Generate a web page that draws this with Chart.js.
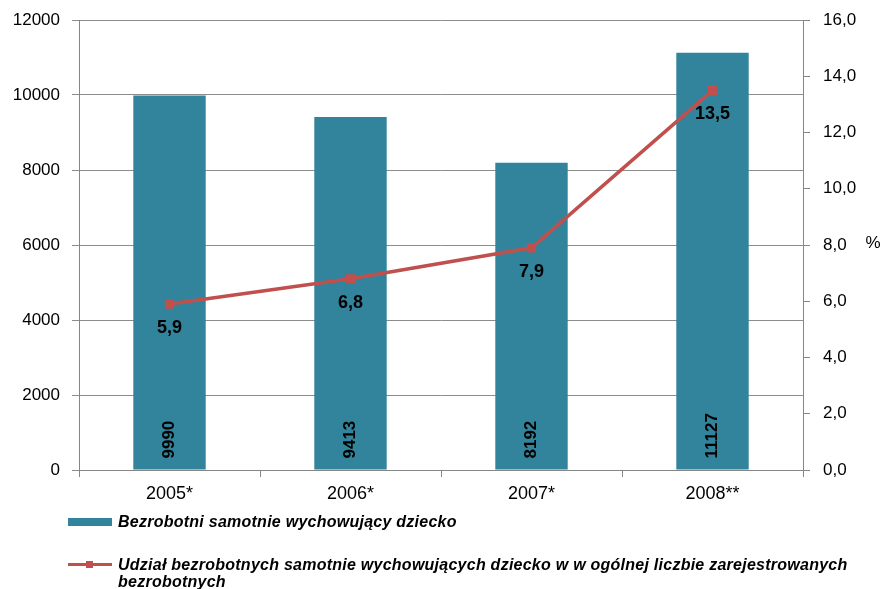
<!DOCTYPE html>
<html>
<head>
<meta charset="utf-8">
<script src="https://cdn.jsdelivr.net/npm/chart.js@4/dist/chart.umd.min.js"></script>
<style>
  body { margin: 0; background: #fff; font-family: "Liberation Sans", Arial, sans-serif; }
  #wrap { position: relative; width: 885px; height: 589px; }
  #legend { position: absolute; left: 68px; top: 513px; width: 810px; }
  .item { display: flex; align-items: flex-start; font: italic bold 16px "Liberation Sans", Arial, sans-serif; line-height: 17px; letter-spacing: 0.25px; color: #000; }
  .item + .item { margin-top: 26px; }
  .mark { flex: 0 0 44px; height: 17px; position: relative; margin-right: 6px; }
  .txt { width: 750px; }
</style>
</head>
<body>
<div id="wrap">
  <canvas id="chart" width="885" height="589"></canvas>
  <div id="legend"></div>
</div>
<script>
const categories = ['2005*', '2006*', '2007*', '2008**'];
const unemployedSingleParents = [9990, 9413, 8192, 11127];
const shareOfRegistered = [5.9, 6.8, 7.9, 13.5];
const barLabel = 'Bezrobotni samotnie wychowujący dziecko';
const lineLabel = 'Udział bezrobotnych samotnie wychowujących dziecko w w ogólnej liczbie zarejestrowanych bezrobotnych';

const teal = '#31849B';
const red = '#C0504D';
const axisGray = '#868686';
const fontFamily = '"Liberation Sans", Arial, sans-serif';

Chart.defaults.font.family = fontFamily;
Chart.defaults.color = '#000';

const fmt = (v) => v.toFixed(1).replace('.', ',');

// value labels: rotated counts inside bars, percentages under the line points
const valueLabels = {
  id: 'valueLabels',
  afterDatasetsDraw(chart) {
    const ctx = chart.ctx;
    ctx.save();
    ctx.fillStyle = '#000';
    ctx.font = 'bold 17px ' + fontFamily;
    chart.getDatasetMeta(1).data.forEach((bar, i) => {
      ctx.save();
      ctx.translate(bar.x, bar.base - 11);
      ctx.rotate(-Math.PI / 2);
      ctx.textAlign = 'left';
      ctx.textBaseline = 'middle';
      ctx.fillText(String(unemployedSingleParents[i]), 0, 0);
      ctx.restore();
    });
    ctx.font = 'bold 18px ' + fontFamily;
    ctx.textAlign = 'center';
    ctx.textBaseline = 'middle';
    chart.getDatasetMeta(0).data.forEach((pt, i) => {
      ctx.fillText(fmt(shareOfRegistered[i]), pt.x, pt.y + 24);
    });
    // "%" next to the right axis
    ctx.font = '17px ' + fontFamily;
    ctx.fillText('%', chart.width - 12, chart.scales.y1.getPixelForValue(8) - 2);
    ctx.restore();
  }
};

// keep the plot area where the layout padding puts it
const noLabelPad = (s) => { s.paddingTop = 0; s.paddingBottom = 0; };

const chart = new Chart(document.getElementById('chart'), {
  data: {
    labels: categories,
    datasets: [
      {
        type: 'line',
        label: lineLabel,
        data: shareOfRegistered,
        yAxisID: 'y1',
        borderColor: red,
        backgroundColor: red,
        borderWidth: 3.5,
        pointStyle: 'rect',
        pointRadius: 4,
        pointBackgroundColor: red,
        pointBorderColor: red,
        tension: 0,
        order: 0
      },
      {
        type: 'bar',
        label: barLabel,
        data: unemployedSingleParents,
        yAxisID: 'y',
        backgroundColor: teal,
        borderWidth: 0,
        barPercentage: 0.4,
        categoryPercentage: 1,
        order: 1
      }
    ]
  },
  options: {
    responsive: false,
    animation: false,
    layout: { padding: { top: 20, bottom: 79, left: 0, right: 0 } },
    plugins: { legend: { display: false }, tooltip: { enabled: false } },
    scales: {
      x: {
        grid: { drawOnChartArea: false, drawTicks: true, tickLength: 7, color: axisGray, offset: true },
        border: { color: axisGray },
        ticks: { font: { size: 18 }, padding: 6, color: '#000' },
        afterFit(s) { s.height = 40; }
      },
      y: {
        position: 'left',
        min: 0,
        max: 12000,
        ticks: { stepSize: 2000, font: { size: 17 }, padding: 12, color: '#000', callback: (v) => String(v) },
        grid: { color: '#8c8c8c', tickLength: 7 },
        border: { color: axisGray },
        afterFit(s) { s.width = 79; noLabelPad(s); }
      },
      y1: {
        position: 'right',
        min: 0,
        max: 16,
        ticks: { stepSize: 2, font: { size: 17 }, padding: 13, color: '#000', callback: (v) => fmt(v) },
        grid: { drawOnChartArea: false, tickLength: 7, color: axisGray },
        border: { color: axisGray },
        afterFit(s) { s.width = 82; noLabelPad(s); }
      }
    }
  },
  plugins: [valueLabels]
});

// legend built from the chart's datasets (bar first, then line)
const legend = document.getElementById('legend');
[chart.data.datasets[1], chart.data.datasets[0]].forEach((ds) => {
  const item = document.createElement('div');
  item.className = 'item';
  const mark = document.createElement('div');
  mark.className = 'mark';
  if (ds.type === 'bar') {
    mark.innerHTML = '<div style="position:absolute;left:0;top:5px;width:44px;height:8px;background:' + ds.backgroundColor + '"></div>';
  } else {
    mark.innerHTML = '<div style="position:absolute;left:0;top:7px;width:44px;height:3px;background:' + ds.borderColor + '"></div>' +
      '<div style="position:absolute;left:18px;top:5px;width:7px;height:7px;background:' + ds.borderColor + '"></div>';
  }
  const txt = document.createElement('div');
  txt.className = 'txt';
  txt.textContent = ds.label;
  item.appendChild(mark);
  item.appendChild(txt);
  legend.appendChild(item);
});
</script>
</body>
</html>
